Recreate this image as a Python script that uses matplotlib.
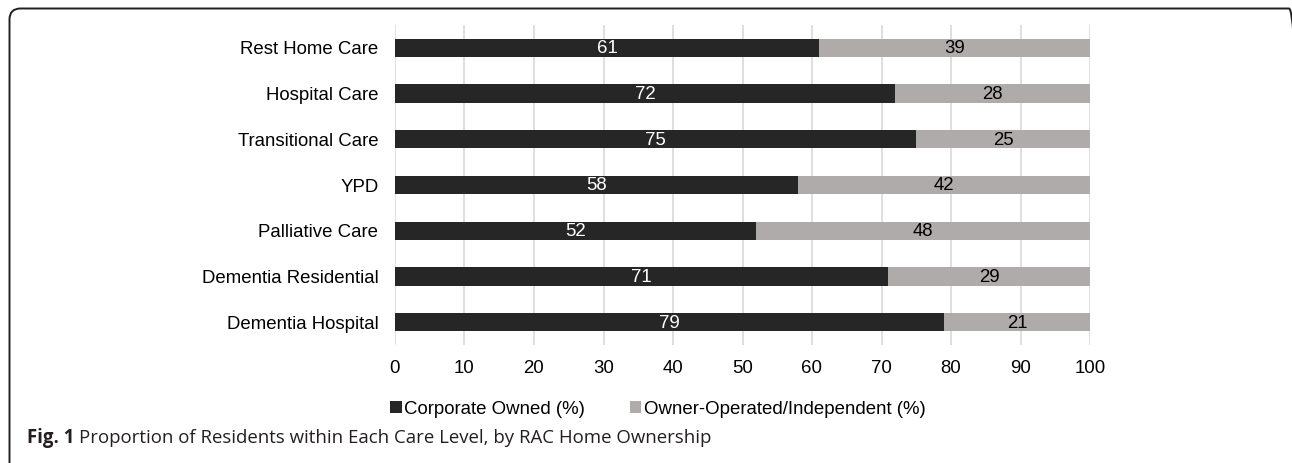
import matplotlib
matplotlib.use('Agg')
import matplotlib.pyplot as plt
from matplotlib.patches import FancyBboxPatch
from matplotlib.transforms import IdentityTransform
import numpy as np

categories = ['Rest Home Care', 'Hospital Care', 'Transitional Care', 'YPD',
              'Palliative Care', 'Dementia Residential', 'Dementia Hospital']
corporate = [61, 72, 75, 58, 52, 71, 79]
independent = [39, 28, 25, 42, 48, 29, 21]
series_names = ['Corporate Owned (%)', 'Owner-Operated/Independent (%)']
xticks = [0, 10, 20, 30, 40, 50, 60, 70, 80, 90, 100]

W, H = 1292, 463
fig = plt.figure(figsize=(W / 100, H / 100), dpi=100)
ax = fig.add_axes([395 / W, 1 - 345 / H, (1090 - 395) / W, (345 - 25) / H])

dark = '#262626'
grey = '#AFABAB'
fs = 13.4
y = np.arange(len(categories))
b1 = ax.barh(y, corporate, height=0.4, color=dark, label=series_names[0], zorder=3)
b2 = ax.barh(y, independent, left=corporate, height=0.4, color=grey, label=series_names[1], zorder=3)

for i in range(len(categories)):
    ax.text(corporate[i] / 2, y[i] + 0.02, str(corporate[i]), ha='center', va='center',
            color='white', fontsize=fs, family='Liberation Sans', zorder=4)
    ax.text(corporate[i] + independent[i] / 2, y[i] + 0.02, str(independent[i]), ha='center', va='center',
            color='black', fontsize=fs, family='Liberation Sans', zorder=4)

ax.set_ylim(len(categories) - 0.5, -0.5)
ax.set_xlim(0, 100)
ax.set_xticks(xticks)
ax.set_yticks(y)
ax.set_yticklabels(categories)
ax.grid(axis='x', color='#D9D9D9', linewidth=1.2, zorder=0)
for s in ax.spines.values():
    s.set_visible(False)
ax.tick_params(axis='both', length=0, labelsize=fs, labelcolor='black')
ax.tick_params(axis='x', pad=11)
ax.tick_params(axis='y', pad=12)
for lab in ax.get_xticklabels() + ax.get_yticklabels():
    lab.set_family('Liberation Sans')

fig.legend(handles=[b1, b2], labels=series_names, loc='center', bbox_to_anchor=(658 / W, 1 - 409 / H),
           ncol=2, frameon=False, handlelength=0.6, handleheight=0.6, handletextpad=0.15,
           columnspacing=2.4, prop={'family': 'Liberation Sans', 'size': fs})

# caption
t = fig.text(27 / W, 1 - 438 / H, 'Fig. 1', fontsize=13.4, fontweight='bold', color='#231F20',
             family='Open Sans', va='center', ha='left')
fig.canvas.draw()
bb = t.get_window_extent()
fig.text((bb.x1 + 5) / W, 1 - 438 / H,
         'Proportion of Residents within Each Care Level, by RAC Home Ownership',
         fontsize=13.4, color='#231F20', family='Open Sans', va='center', ha='left')

# rounded frame running off the right and bottom edges (pixel coords)
frame = FancyBboxPatch((9.5, -40), W + 8 - 9.5, H - 8.5 + 40,
                       boxstyle='round,pad=0,rounding_size=11', transform=IdentityTransform(),
                       fill=False, edgecolor='#231F20', linewidth=1.4, clip_on=False)
fig.patches.append(frame)

fig.savefig('out.png', dpi=100)
